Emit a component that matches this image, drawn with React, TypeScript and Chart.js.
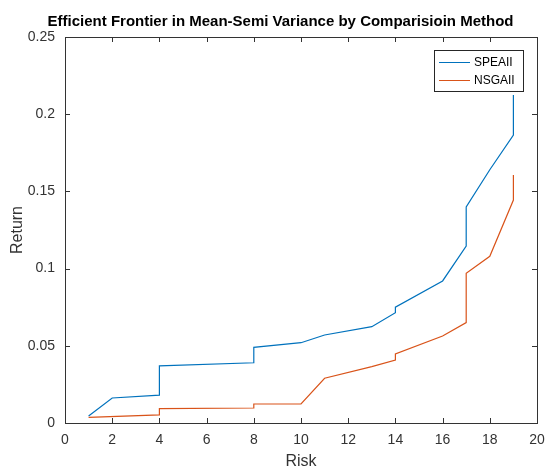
import { useEffect, useRef } from 'react';
import { Chart, registerables } from 'chart.js';

Chart.register(...registerables);

const titleText = 'Efficient Frontier in Mean-Semi Variance by Comparisioin Method';
const xAxisLabel = 'Risk';
const yAxisLabel = 'Return';
const seriesNames = ['SPEAII', 'NSGAII'];
const seriesColors = ['#0072BD', '#D95319'];

const speaRisk = [1, 2, 4, 4, 8, 8, 10, 11, 13, 14, 14, 16, 17, 17, 18, 19, 19];
const speaReturn = [0.0045, 0.0162, 0.018, 0.037, 0.039, 0.049, 0.052, 0.057, 0.0624, 0.0714, 0.075, 0.092, 0.1146, 0.14, 0.164, 0.1865, 0.2124];
const nsgaRisk = [1, 4, 4, 8, 8, 10, 11, 13, 14, 14, 16, 17, 17, 18, 19, 19];
const nsgaReturn = [0.0037, 0.0052, 0.0093, 0.0097, 0.0123, 0.0123, 0.029, 0.0365, 0.0408, 0.0447, 0.0563, 0.065, 0.097, 0.108, 0.1444, 0.1606];

const xTickValues = [0, 2, 4, 6, 8, 10, 12, 14, 16, 18, 20];
const yTickValues = [0, 0.05, 0.1, 0.15, 0.2, 0.25];
const yTickLabels = ['0', '0.05', '0.1', '0.15', '0.2', '0.25'];

const FONT = '"Liberation Sans", Arial, Helvetica, sans-serif';
const AXIS_COLOR = '#333333';

const framePlugin = {
  id: 'matlabFrame',
  afterDraw(chart: any) {
    const { ctx, chartArea } = chart;
    const { left, right, top, bottom } = chartArea;
    const xs = chart.scales.x;
    const ys = chart.scales.y;
    ctx.save();
    ctx.strokeStyle = AXIS_COLOR;
    ctx.lineWidth = 1;
    ctx.strokeRect(Math.round(left) + 0.5, Math.round(top) + 0.5, Math.round(right - left), Math.round(bottom - top));
    const tl = 5;
    ctx.beginPath();
    xTickValues.forEach((v) => {
      const px = Math.round(xs.getPixelForValue(v)) + 0.5;
      ctx.moveTo(px, bottom);
      ctx.lineTo(px, bottom - tl);
      ctx.moveTo(px, top);
      ctx.lineTo(px, top + tl);
    });
    yTickValues.forEach((v) => {
      const py = Math.round(ys.getPixelForValue(v)) + 0.5;
      ctx.moveTo(left, py);
      ctx.lineTo(left + tl, py);
      ctx.moveTo(right, py);
      ctx.lineTo(right - tl, py);
    });
    ctx.stroke();

    // title
    ctx.fillStyle = '#000';
    ctx.font = `bold 15px ${FONT}`;
    ctx.textAlign = 'center';
    ctx.textBaseline = 'alphabetic';
    ctx.fillText(titleText, chart.width / 2 + 3, 26);

    // legend box
    const bw = 89;
    const bh = 41;
    const bx = right - 14 - bw;
    const by = top + 13;
    ctx.fillStyle = '#fff';
    ctx.fillRect(bx, by, bw, bh);
    ctx.strokeStyle = '#262626';
    ctx.strokeRect(Math.round(bx) + 0.5, Math.round(by) + 0.5, bw, bh);
    ctx.font = `12px ${FONT}`;
    ctx.textAlign = 'left';
    ctx.textBaseline = 'middle';
    seriesNames.forEach((name, i) => {
      const cy = by + 12 + i * 18;
      ctx.strokeStyle = seriesColors[i];
      ctx.beginPath();
      ctx.moveTo(bx + 5, cy + 0.5);
      ctx.lineTo(bx + 36, cy + 0.5);
      ctx.stroke();
      ctx.fillStyle = '#000';
      ctx.fillText(name, bx + 40, cy + 1);
    });
    ctx.restore();
  },
};

export default function App() {
  const ref = useRef<HTMLCanvasElement | null>(null);
  useEffect(() => {
    document.body.style.margin = '0';
    if (!ref.current) return;
    const mk = (xs: number[], ys: number[]) => xs.map((x, i) => ({ x, y: ys[i] }));
    const chart = new Chart(ref.current, {
      type: 'scatter',
      data: {
        datasets: [
          {
            label: seriesNames[0],
            data: mk(speaRisk, speaReturn),
            showLine: true,
            borderColor: seriesColors[0],
            borderWidth: 1.2,
            pointRadius: 0,
            fill: false,
          },
          {
            label: seriesNames[1],
            data: mk(nsgaRisk, nsgaReturn),
            showLine: true,
            borderColor: seriesColors[1],
            borderWidth: 1.2,
            pointRadius: 0,
            fill: false,
          },
        ],
      },
      options: {
        animation: false,
        responsive: false,
        devicePixelRatio: 1,
        layout: { padding: { top: 37, right: 18, left: 0, bottom: 0 } },
        plugins: {
          legend: { display: false },
          title: { display: false },
          tooltip: { enabled: false },
        },
        scales: {
          x: {
            type: 'linear',
            min: 0,
            max: 20,
            grid: { display: false, drawTicks: false },
            border: { display: false },
            afterBuildTicks: (s: any) => {
              s.ticks = xTickValues.map((v) => ({ value: v }));
            },
            afterFit: (s: any) => {
              s.height = 48;
            },
            ticks: {
              padding: 9,
              color: AXIS_COLOR,
              font: { family: FONT, size: 14 },
              maxRotation: 0,
              autoSkip: false,
              callback: (v: any) => String(v),
            },
            title: {
              display: true,
              text: xAxisLabel,
              color: AXIS_COLOR,
              font: { family: FONT, size: 16 },
              padding: { top: 0, bottom: 0 },
            },
          },
          y: {
            type: 'linear',
            min: 0,
            max: 0.25,
            grid: { display: false, drawTicks: false },
            border: { display: false },
            afterBuildTicks: (s: any) => {
              s.ticks = yTickValues.map((v) => ({ value: v }));
            },
            afterFit: (s: any) => {
              s.width = 65;
            },
            ticks: {
              padding: 10,
              color: AXIS_COLOR,
              font: { family: FONT, size: 14 },
              autoSkip: false,
              callback: (v: any) => {
                const i = yTickValues.indexOf(Number(v));
                return i >= 0 ? yTickLabels[i] : '';
              },
            },
            title: {
              display: true,
              text: yAxisLabel,
              color: AXIS_COLOR,
              font: { family: FONT, size: 16 },
              padding: { top: 8, bottom: 0 },
            },
          },
        },
      },
      plugins: [framePlugin],
    });
    return () => chart.destroy();
  }, []);
  return (
    <div style={{ width: 555, height: 471 }}>
      <canvas ref={ref} width={555} height={471} style={{ display: 'block', width: 555, height: 471 }} />
    </div>
  );
}
